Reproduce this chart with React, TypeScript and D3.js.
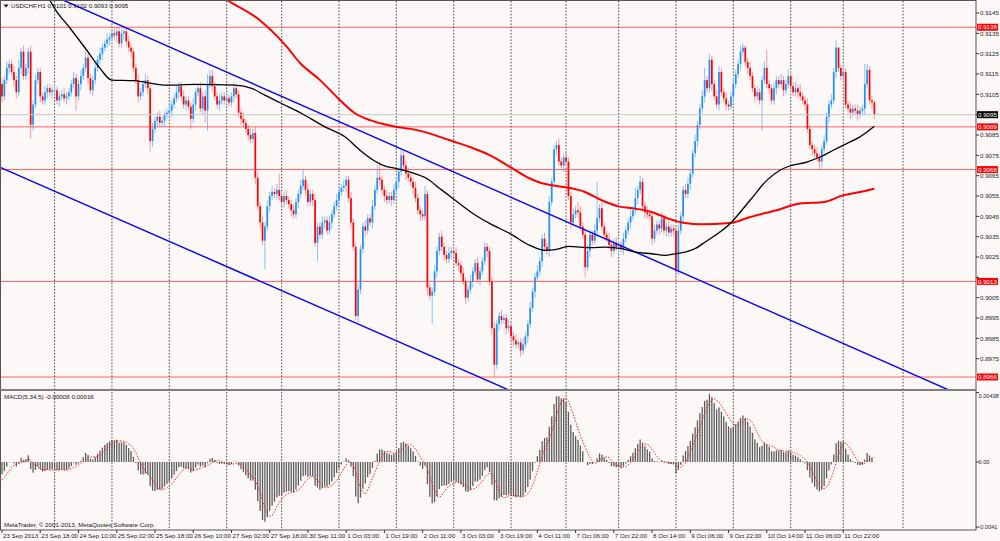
import React, { useMemo } from "react";
import * as d3 from "d3";

// USDCHF H1, 23 Sep - 14 Oct 2013. Prices kept in pips above 0.9000 (112 -> 0.9112)
const BASE = 0.9;
const PIP = 0.0001;

const firstOpen = 110;
const closes = [
  104, 112, 118, 120, 116, 112, 106, 118, 126, 114, 118, 126, 90, 100, 112, 116, 104, 102, 106, 108,
  106, 107, 107, 102, 104, 105, 103, 104, 106, 110, 113, 104, 110, 114, 118, 123, 113, 107, 112, 118,
  122, 125, 128, 130, 132, 133, 135, 134, 136, 130, 135, 136, 131, 128, 126, 118, 112, 104, 106, 110,
  112, 108, 82, 88, 92, 94, 91, 92, 95, 96, 97, 100, 103, 106, 109, 104, 100, 102, 99, 93,
  100, 106, 108, 98, 104, 97, 110, 114, 109, 104, 100, 102, 104, 102, 103, 101, 104, 108, 105, 96,
  93, 91, 88, 85, 83, 86, 64, 50, 42, 33, 40, 50, 55, 57, 56, 58, 55, 52, 55, 53,
  51, 48, 46, 52, 56, 60, 63, 58, 52, 56, 53, 32, 40, 36, 42, 43, 38, 42, 46, 50,
  53, 57, 59, 60, 63, 54, 42, 30, -4, 9, 29, 40, 38, 44, 42, 50, 58, 64, 63, 58,
  55, 53, 55, 53, 58, 62, 67, 75, 70, 66, 64, 62, 59, 54, 48, 46, 45, 56, 10, 6,
  8, 18, 28, 35, 30, 26, 24, 27, 28, 27, 22, 21, 17, 13, 5, 9, 13, 18, 22, 14,
  18, 23, 30, 28, 13, -10, -28, -8, -4, -6, -5, -10, -9, -14, -16, -18, -17, -21, -18, -14,
  -8, 0, 8, 15, 18, 23, 34, 30, 28, 52, 62, 78, 80, 72, 70, 74, 72, 55, 42, 46,
  48, 47, 40, 36, 20, 28, 36, 33, 38, 44, 49, 40, 36, 34, 31, 28, 32, 30, 31, 29,
  34, 38, 42, 45, 48, 54, 58, 62, 50, 47, 46, 45, 34, 38, 41, 39, 44, 38, 40, 37,
  39, 38, 18, 38, 45, 58, 56, 61, 66, 76, 82, 90, 98, 104, 112, 108, 122, 110, 104, 100,
  116, 106, 103, 100, 99, 104, 110, 115, 120, 126, 128, 121, 118, 114, 108, 104, 106, 102, 112, 118,
  110, 108, 102, 108, 112, 110, 112, 107, 110, 114, 109, 106, 108, 106, 104, 102, 100, 88, 80, 78,
  76, 74, 72, 78, 82, 94, 100, 102, 116, 128, 118, 114, 116, 100, 98, 96, 98, 97, 95, 97,
  98, 110, 117, 102, 101, 95,
];
// wick lengths beyond the body, pips
const wickUp = [
  3, 2, 3, 2, 2, 3, 2, 4, 2, 3, 2, 2, 3, 2, 3, 2, 2, 2, 3, 2,
  2, 2, 3, 2, 2, 2, 3, 2, 2, 2, 3, 2, 2, 3, 2, 3, 2, 2, 2, 2,
  2, 3, 2, 2, 3, 2, 2, 3, 2, 2, 2, 2, 2, 3, 2, 2, 2, 3, 2, 2,
  3, 2, 2, 3, 2, 2, 3, 2, 2, 2, 3, 2, 2, 3, 2, 2, 3, 2, 2, 2,
  3, 2, 2, 3, 2, 3, 5, 3, 3, 2, 2, 3, 2, 2, 3, 2, 2, 3, 2, 2,
  2, 3, 2, 2, 3, 2, 3, 3, 2, 3, 2, 3, 2, 3, 2, 3, 8, 2, 2, 3,
  2, 2, 3, 2, 2, 3, 5, 2, 3, 2, 2, 3, 2, 2, 3, 2, 2, 3, 2, 2,
  3, 2, 2, 3, 2, 2, 3, 2, 2, 3, 2, 2, 3, 2, 2, 3, 2, 6, 8, 2,
  2, 3, 2, 2, 3, 2, 2, 3, 2, 2, 3, 2, 2, 3, 2, 2, 2, 4, 2, 2,
  2, 3, 2, 2, 3, 2, 2, 3, 2, 2, 3, 2, 2, 3, 2, 2, 3, 2, 2, 3,
  2, 2, 2, 2, 2, 2, 3, 2, 2, 3, 2, 2, 3, 2, 2, 3, 2, 2, 3, 2,
  2, 3, 2, 2, 3, 2, 2, 3, 2, 3, 2, 2, 2, 3, 2, 2, 3, 2, 2, 3,
  2, 4, 3, 2, 2, 3, 2, 2, 3, 18, 2, 3, 2, 2, 3, 2, 2, 3, 2, 2,
  3, 2, 2, 3, 2, 5, 2, 3, 2, 2, 3, 2, 2, 3, 2, 2, 3, 2, 2, 3,
  2, 2, 2, 3, 2, 2, 3, 3, 2, 2, 3, 2, 2, 3, 6, 2, 3, 2, 2, 3,
  3, 2, 2, 3, 2, 2, 3, 2, 2, 3, 2, 1, 2, 3, 2, 2, 3, 2, 2, 3,
  9, 2, 2, 3, 2, 2, 3, 2, 2, 3, 2, 2, 3, 2, 4, 2, 2, 3, 2, 2,
  2, 3, 2, 2, 3, 2, 2, 3, 2, 4, 0, 2, 3, 2, 2, 3, 2, 2, 3, 2,
  2, 10, 3, 2, 2, 1,
];
const wickDown = [
  3, 2, 2, 3, 2, 3, 3, 2, 3, 2, 2, 3, 7, 3, 2, 2, 3, 2, 2, 3,
  2, 3, 2, 2, 3, 2, 2, 3, 2, 2, 2, 7, 2, 3, 2, 2, 3, 2, 3, 2,
  2, 2, 3, 2, 2, 3, 2, 2, 3, 2, 2, 3, 2, 2, 3, 2, 2, 3, 2, 2,
  2, 3, 5, 3, 2, 3, 2, 2, 3, 2, 2, 3, 2, 2, 3, 2, 2, 3, 2, 5,
  2, 3, 2, 2, 3, 6, 10, 2, 3, 2, 2, 3, 2, 2, 3, 2, 2, 3, 2, 2,
  3, 2, 2, 3, 2, 2, 3, 2, 3, 2, 14, 2, 3, 2, 2, 3, 2, 2, 3, 2,
  2, 3, 2, 2, 3, 2, 2, 3, 2, 2, 3, 2, 9, 2, 2, 3, 2, 2, 3, 2,
  2, 3, 2, 2, 3, 2, 3, 2, 2, 3, 2, 2, 3, 2, 2, 3, 2, 2, 3, 2,
  3, 2, 2, 3, 2, 2, 3, 2, 2, 3, 2, 2, 3, 2, 2, 3, 2, 2, 4, 2,
  14, 2, 3, 2, 2, 3, 2, 2, 3, 2, 2, 3, 2, 2, 3, 2, 2, 3, 2, 2,
  3, 2, 2, 3, 2, 3, 6, 2, 3, 2, 2, 3, 2, 2, 3, 2, 2, 3, 2, 2,
  3, 2, 2, 3, 2, 2, 3, 2, 2, 3, 2, 2, 3, 2, 2, 3, 2, 2, 3, 2,
  2, 3, 2, 2, 5, 2, 3, 2, 2, 3, 2, 2, 3, 2, 2, 3, 2, 2, 3, 2,
  3, 2, 2, 3, 2, 2, 3, 2, 2, 3, 2, 2, 3, 2, 2, 3, 2, 2, 3, 2,
  2, 3, 4, 2, 2, 3, 2, 2, 3, 2, 2, 3, 2, 2, 3, 2, 2, 3, 2, 2,
  3, 2, 2, 3, 2, 2, 3, 2, 2, 3, 2, 2, 3, 2, 2, 3, 2, 2, 15, 2,
  2, 3, 2, 2, 3, 2, 2, 3, 2, 2, 3, 2, 2, 3, 2, 2, 3, 2, 2, 3,
  2, 2, 4, 3, 2, 2, 3, 2, 2, 3, 2, 2, 3, 2, 2, 3, 2, 2, 3, 2,
  2, 3, 2, 2, 3, 2,
];

// moving averages: bar index / pips
const blackMaBars = [20, 22, 28.5, 35.4, 41, 45.9, 55, 68.9, 80.8, 97.5, 104.5, 110, 117, 125.4, 135.1, 143.5, 149.8, 155.4, 159.5, 165.1, 170.7, 177.7, 183.3, 188.8, 197.2, 204.2, 212.6, 220.9, 227.2, 231.4, 237, 246.7, 252.3, 259.3, 264.9, 271.8, 277.4, 281.6, 285.8, 290, 294.1, 304.6, 313, 320, 325.5, 329.7, 336.7, 342.2, 347.8, 353.4, 359, 365];
const blackMaPips = [151.4, 147.3, 137.5, 126.8, 117.8, 112, 111.7, 109.5, 109.9, 109.5, 107.9, 104.6, 100.5, 95.6, 89, 84.1, 77.5, 72.6, 70.1, 68.5, 66.8, 63.6, 58.6, 53.7, 46.3, 41.4, 36.5, 30.7, 28.3, 28.6, 30.2, 29.6, 29.9, 29.1, 27.4, 26.6, 25.8, 26.6, 27.4, 29.1, 32.3, 41.4, 52.9, 62.7, 67.7, 69.8, 71.7, 74.2, 77.5, 80.8, 84.1, 89.3];
const redMaBars = [92, 94.1, 106.7, 119.2, 124.7, 133.1, 140.6, 147.7, 154, 163.7, 173.5, 179.1, 187.4, 195.8, 204.2, 212.6, 220.9, 224.4, 230, 237, 243.9, 250.9, 257.9, 264.9, 271.8, 278.8, 285.8, 292.5, 304.6, 313, 324.1, 333.9, 344.1, 351.8, 359, 365];
const redMaPips = [153, 151.4, 142.5, 128.3, 120.4, 112, 103.1, 95.7, 92.3, 89.3, 87.4, 85.7, 82.4, 79.1, 75, 69.3, 63.6, 61.9, 60.3, 59.1, 57, 52.9, 49.9, 48.8, 47.1, 43.9, 41.7, 41.1, 41.7, 44.7, 48, 51.3, 52.1, 55.3, 57, 58.6];

// channel trend lines: two anchors each (bar, pips)
const upperTrendBars = [34.3, 395.8];
const upperTrendPips = [146.8, -40.2];
const lowerTrendBars = [-0.84, 211.7];
const lowerTrendPips = [69.1, -40.2];

const levels = [0.9138, 0.9089, 0.9068, 0.9013, 0.8966];
const priceTicks = [0.9145, 0.9135, 0.9125, 0.9115, 0.9105, 0.9095, 0.9085, 0.9075, 0.9065, 0.9055, 0.9045, 0.9035, 0.9025, 0.9015, 0.9005, 0.8995, 0.8985, 0.8975];

const timeLabels = [
  "23 Sep 2013", "23 Sep 18:00", "24 Sep 10:00", "25 Sep 02:00", "25 Sep 18:00", "26 Sep 10:00",
  "27 Sep 02:00", "27 Sep 18:00", "30 Sep 11:00", "1 Oct 03:00", "1 Oct 19:00", "2 Oct 11:00",
  "3 Oct 03:00", "3 Oct 19:00", "4 Oct 11:00", "7 Oct 06:00", "7 Oct 22:00", "8 Oct 14:00",
  "9 Oct 06:00", "9 Oct 22:00", "10 Oct 14:00", "11 Oct 06:00", "11 Oct 22:00",
];
const LABEL_EVERY = 16;
const daySeparators = [22, 46, 70, 94, 117, 141, 165, 189, 213, 236, 258, 282, 306, 330, 352, 377];

// MACD(5,34,5)
const FAST = 5;
const SLOW = 34;
const SIGNAL = 5;
const fastSeed = 0.9108;
const slowSeed = 0.9115;
const priorMacd = [-0.0014, -0.0013, -0.0012, -0.001];
const macdTicks = [0.00438, 0, -0.0041];
const macdTickLabels = ["0.00438", "0.00", "-0.0041"];

const W = 1000;
const H = 541;
const AXIS_X = 976;
const MAIN_BOTTOM = 389;
const SUB_TOP = 391;
const SUB_BOTTOM = 530;
const BAR_STEP = 2.39;
const FONT = "'Liberation Sans', Arial, sans-serif";
const FS = 6.2;
const BG = "#fdf8f8";

const toPrice = (p: number) => BASE + p * PIP;

export default function App() {
  const x = d3.scaleLinear().domain([0, 1]).range([2, 2 + BAR_STEP]);
  const y = d3.scaleLinear().domain([0.8975, 0.9145]).range([358.7, 13]);
  const ym = d3.scaleLinear().domain([-0.0041, 0.00438]).range([527, 392.6]);

  const candles = useMemo(
    () =>
      closes.map((c, i) => {
        const o = i === 0 ? firstOpen : closes[i - 1];
        return { i, o, c, hi: Math.max(o, c) + wickUp[i], lo: Math.min(o, c) - wickDown[i] };
      }),
    []
  );

  const macd = useMemo(() => {
    const kf = 2 / (FAST + 1);
    const ks = 2 / (SLOW + 1);
    let ef = fastSeed;
    let es = slowSeed;
    return closes.map((c) => {
      const p = toPrice(c);
      ef = p * kf + ef * (1 - kf);
      es = p * ks + es * (1 - ks);
      return ef - es;
    });
  }, []);
  const signal = useMemo(() => {
    const all = [...priorMacd, ...macd];
    return macd.map((_, i) => d3.mean(all.slice(i + priorMacd.length + 1 - SIGNAL, i + priorMacd.length + 1)) as number);
  }, [macd]);

  const blackPath = d3
    .line<number>()
    .x((b) => x(b))
    .y((_, k) => y(toPrice(blackMaPips[k])))
    .curve(d3.curveMonotoneX)(blackMaBars);
  const redPath = d3
    .line<number>()
    .x((b) => x(b))
    .y((_, k) => y(toPrice(redMaPips[k])))
    .curve(d3.curveMonotoneX)(redMaBars);

  const trend = (bars: number[], pips: number[], from: number, to: number) => {
    const t = d3.scaleLinear().domain(bars).range(pips);
    return { x1: x(from), y1: y(toPrice(t(from))), x2: x(to), y2: y(toPrice(t(to))) };
  };
  const up = trend(upperTrendBars, upperTrendPips, 20, 400);
  const lo = trend(lowerTrendBars, lowerTrendPips, -2, 215);

  const last = candles[candles.length - 1];
  const header = `USDCHF,H1  ${toPrice(last.o).toFixed(4)} ${toPrice(last.hi).toFixed(4)} ${toPrice(last.lo).toFixed(4)} ${toPrice(last.c).toFixed(4)}`;
  const current = toPrice(last.c);

  // tick labels sitting under a coloured price tag are hidden, as in the terminal
  const tagged = [...levels, current];
  const visibleTicks = priceTicks.filter((t) => tagged.every((l) => Math.abs(y(t) - y(l)) > 5));

  const signalPath = d3
    .line<number>()
    .x((_, i) => x(i))
    .y((v) => ym(v))(signal);

  return (
    <div style={{ position: "absolute", left: 0, top: 0 }}>
      <svg width={W} height={H} style={{ display: "block", fontFamily: FONT }}>
        <defs>
          <clipPath id="mainClip">
            <rect x={1} y={1} width={AXIS_X - 1} height={MAIN_BOTTOM - 1} />
          </clipPath>
          <clipPath id="subClip">
            <rect x={1} y={SUB_TOP} width={AXIS_X - 1} height={SUB_BOTTOM - SUB_TOP} />
          </clipPath>
        </defs>
        <rect width={W} height={H} fill={BG} />

        {/* day separators */}
        {daySeparators.map((b) => (
          <g key={b} stroke="#3a3a3a" strokeWidth={0.9} strokeDasharray="1.6,1.6">
            <line x1={x(b)} x2={x(b)} y1={1} y2={MAIN_BOTTOM} />
            <line x1={x(b)} x2={x(b)} y1={SUB_TOP + 1} y2={SUB_BOTTOM} />
          </g>
        ))}

        <g clipPath="url(#mainClip)">
          {/* candles */}
          {candles.map((d) => {
            const bull = d.c >= d.o;
            const col = bull ? "#1e90ff" : "#ff0000";
            const top = y(toPrice(Math.max(d.o, d.c)));
            const bot = y(toPrice(Math.min(d.o, d.c)));
            return (
              <g key={d.i}>
                <line
                  x1={x(d.i)}
                  x2={x(d.i)}
                  y1={y(toPrice(d.hi))}
                  y2={y(toPrice(d.lo))}
                  stroke={bull ? "#86c3fb" : "#fb9a9a"}
                  strokeWidth={1}
                />
                <rect x={x(d.i) - 0.85} y={top} width={1.7} height={Math.max(0.8, bot - top)} fill={col} />
              </g>
            );
          })}

          {/* horizontal levels */}
          {levels.map((l) => (
            <line key={l} x1={0} x2={AXIS_X} y1={y(l)} y2={y(l)} stroke="#ff3030" strokeOpacity={0.75} strokeWidth={1} />
          ))}
          <line x1={0} x2={AXIS_X} y1={y(current)} y2={y(current)} stroke="#c8c8c8" strokeWidth={1} />

          {/* channel */}
          <line {...up} stroke="#0000ff" strokeWidth={1.4} />
          <line {...lo} stroke="#0000ff" strokeWidth={1.4} />

          {/* moving averages */}
          <path d={redPath ?? ""} fill="none" stroke="#ff0000" strokeWidth={2} />
          <path d={blackPath ?? ""} fill="none" stroke="#000" strokeWidth={1.3} />
        </g>

        {/* MACD panel */}
        <g clipPath="url(#subClip)">
          {macd.map((v, i) => (
            <line key={i} x1={x(i)} x2={x(i)} y1={ym(0)} y2={ym(v)} stroke="#5c5c5c" strokeWidth={1.3} />
          ))}
          <path d={signalPath ?? ""} fill="none" stroke="#ff2020" strokeWidth={1} strokeDasharray="1.5,1.5" />
        </g>

        {/* frames */}
        <rect x={0.5} y={0.5} width={AXIS_X - 0.5} height={SUB_BOTTOM - 0.5} fill="none" stroke="#555" strokeWidth={1} />
        <rect x={0} y={MAIN_BOTTOM} width={AXIS_X} height={SUB_TOP - MAIN_BOTTOM} fill="#808080" />

        {/* price axis */}
        {priceTicks.map((t) => (
          <line key={t} x1={AXIS_X} x2={AXIS_X + 3} y1={y(t)} y2={y(t)} stroke="#333" />
        ))}
        {visibleTicks.map((t) => (
          <text key={t} x={AXIS_X + 4} y={y(t)} dy="0.35em" fontSize={FS} fill="#222">
            {t.toFixed(4)}
          </text>
        ))}
        {levels.map((l) => (
          <g key={l}>
            <rect x={AXIS_X + 1} y={y(l) - 3.5} width={21} height={7} fill="#ff0000" />
            <text x={AXIS_X + 2} y={y(l)} dy="0.35em" fontSize={FS} fill="#fff">
              {l.toFixed(4)}
            </text>
          </g>
        ))}
        <rect x={AXIS_X + 1} y={y(current) - 3.5} width={21} height={7} fill="#000" />
        <text x={AXIS_X + 2} y={y(current)} dy="0.35em" fontSize={FS} fill="#fff">
          {current.toFixed(4)}
        </text>

        {/* MACD axis */}
        {macdTicks.map((t, k) => (
          <g key={t}>
            <line x1={AXIS_X} x2={AXIS_X + 3} y1={ym(t)} y2={ym(t)} stroke="#333" />
            <text x={AXIS_X + 2.5} y={Math.max(ym(t), SUB_TOP + 5)} dy="0.35em" fontSize={5.6} fill="#222">
              {macdTickLabels[k]}
            </text>
          </g>
        ))}

        {/* time axis */}
        {timeLabels.map((t, k) => {
          const bx = x(k * LABEL_EVERY);
          return (
            <g key={t}>
              <line x1={bx} x2={bx} y1={SUB_BOTTOM} y2={SUB_BOTTOM + 3} stroke="#333" />
              <text x={bx + 1} y={538} fontSize={FS} fill="#222">
                {t}
              </text>
            </g>
          );
        })}

        {/* captions */}
        <path d="M3.5,4.5 L8.5,4.5 L6,7.5 Z" fill="#000" />
        <text x={11} y={8} fontSize={FS} fill="#111">
          {header}
        </text>
        <text x={4} y={SUB_TOP + 8} fontSize={FS} fill="#111">
          MACD(5,34,5) -0.00008 0.00016
        </text>
        <text x={4} y={SUB_BOTTOM - 3} fontSize={FS} fill="#111">
          MetaTrader, © 2001-2013, MetaQuotes Software Corp.
        </text>
      </svg>
    </div>
  );
}
